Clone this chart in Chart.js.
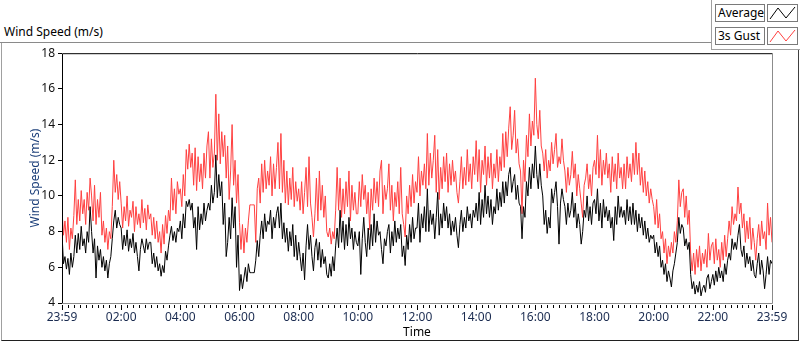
<!DOCTYPE html>
<html>
<head>
<meta charset="utf-8">
<script src="https://cdn.jsdelivr.net/npm/chart.js@4/dist/chart.umd.min.js"></script>
<style>
  html, body { margin: 0; padding: 0; background: #fff; }
  body { width: 800px; height: 342px; position: relative; overflow: hidden; font-family: "Noto Sans", sans-serif; font-size: 12px; color: #000; }
  .caption { position: absolute; left: 4px; top: 23px; }
  .frame { position: absolute; left: 1px; top: 42px; width: 796px; height: 298px; border-left: 1px solid #a0a0a0; border-bottom: 1px solid #202020; border-right: 1px solid #404040; }
  .topline { position: absolute; left: 0; top: 42px; width: 711px; height: 1px; background: #8a8a8a; }
  .legend { position: absolute; left: 711px; top: 0; width: 88px; height: 49px; border-left: 1px solid #a0a0a0; border-bottom: 1px solid #a0a0a0; background: #fff; }
  .lg-name { position: absolute; left: 3px; width: 46px; height: 16px; border: 1px solid #7a7a7a; line-height: 16px; padding-left: 2px; box-sizing: content-box; white-space: nowrap; }
  .lg-swatch { position: absolute; left: 55px; width: 29px; height: 16px; border: 1px solid #7a7a7a; background: #fff; }
  #wrap { position: absolute; left: 2px; top: 43px; width: 796px; height: 297px; }
</style>
</head>
<body>
<div class="frame"></div>
<div class="topline"></div>
<div class="caption">Wind Speed (m/s)</div>
<div class="legend">
  <div class="lg-name" style="top:4px">Average</div>
  <div class="lg-swatch" style="top:4px"><svg width="29" height="16"><polyline points="2,14 10,3 18,13 27,2" fill="none" stroke="#000" stroke-width="1"/></svg></div>
  <div class="lg-name" style="top:27px">3s Gust</div>
  <div class="lg-swatch" style="top:27px"><svg width="29" height="16"><polyline points="2,14 10,3 18,13 27,2" fill="none" stroke="#ff4040" stroke-width="1"/></svg></div>
</div>
<div id="wrap"><canvas id="windChart"></canvas></div>
<script>
// one reading every 3 minutes, 00:00 .. 24:00 (20 per row = 1 hour)
const stepMinutes = 3;

const gust = [
  9.2, 7.8, 8.6, 7.4, 8.8, 7.0, 8.2, 7.6, 8.9, 10.9, 8.4, 9.8, 8.6, 10.3, 9.0, 9.8, 8.4, 10.2, 9.2, 11.0,
  10.0, 8.6, 10.6, 8.4, 9.8, 8.8, 10.2, 7.8, 8.6, 7.4, 8.2, 7.0, 8.0, 7.6, 9.4, 12.0, 10.2, 11.2, 9.8, 10.8,
  9.6, 8.2, 9.4, 8.6, 10.0, 8.3, 9.2, 8.8, 9.7, 8.0, 9.4, 8.4, 9.0, 8.2, 9.8, 8.5, 9.3, 8.1, 9.5, 8.7,
  9.0, 7.8, 8.8, 7.6, 8.6, 7.4, 8.0, 6.8, 8.4, 7.3, 8.9, 7.9, 9.2, 8.6, 11.0, 9.2, 10.4, 9.0, 10.8, 10.1,
  10.4, 9.4, 11.2, 10.0, 12.6, 11.5, 12.9, 11.6, 12.4, 10.6, 12.7, 10.3, 12.2, 10.8, 11.8, 10.4, 12.4, 11.0, 12.8, 13.6,
  11.0, 13.2, 11.6, 12.4, 15.7, 12.0, 14.6, 11.8, 13.6, 12.2, 13.4, 11.0, 12.8, 9.8, 11.4, 14.0, 10.6, 12.0, 9.6, 11.2,
  8.5, 7.0, 8.4, 6.8, 8.2, 7.4, 8.6, 9.5, 9.5, 9.5, 9.5, 7.4, 10.4, 11.0, 9.6, 11.8, 10.2, 12.0, 10.4, 11.4,
  10.6, 12.2, 10.0, 11.8, 10.4, 11.6, 13.0, 10.4, 13.5, 10.2, 12.0, 9.6, 11.4, 9.5, 11.0, 9.8, 11.6, 9.4, 10.8, 9.7,
  10.4, 9.2, 10.8, 9.0, 10.2, 11.6, 9.4, 12.2, 9.6, 8.8, 7.7, 9.0, 11.0, 8.6, 11.4, 9.2, 10.6, 8.8, 10.0, 8.0,
  7.7, 8.2, 7.3, 8.0, 7.6, 9.2, 11.6, 9.2, 11.0, 8.8, 10.4, 9.0, 10.8, 9.4, 11.4, 8.6, 10.6, 9.2, 10.2, 9.0,
  9.0, 10.8, 9.4, 11.2, 9.8, 10.6, 9.0, 10.2, 8.1, 10.4, 9.2, 11.0, 9.6, 10.8, 9.4, 11.4, 12.0, 9.0, 10.6, 9.8,
  10.4, 11.8, 9.2, 10.6, 8.6, 10.2, 9.4, 10.8, 9.0, 11.6, 9.0, 8.4, 7.7, 10.0, 9.0, 10.6, 9.4, 11.2, 9.6, 10.8,
  10.2, 12.2, 10.0, 11.4, 10.6, 11.8, 10.4, 13.5, 10.6, 12.4, 11.0, 12.0, 13.4, 10.2, 12.6, 9.8, 11.6, 10.4, 12.2, 10.8,
  12.4, 10.2, 11.8, 10.6, 12.0, 10.8, 11.4, 10.2, 9.6, 10.8, 12.2, 10.4, 11.6, 10.6, 12.6, 10.8, 11.8, 10.4, 12.2, 11.2,
  13.1, 10.8, 12.6, 10.2, 12.0, 11.2, 12.8, 10.6, 12.2, 11.0, 12.4, 10.4, 11.8, 11.0, 12.6, 10.8, 12.2, 11.4, 13.5, 11.6,
  13.6, 12.2, 13.8, 15.0, 12.6, 13.4, 14.8, 12.4, 13.2, 11.8, 11.4, 9.0, 12.0, 10.8, 13.4, 12.2, 14.6, 12.8, 14.2, 13.4,
  16.6, 14.0, 13.2, 14.8, 12.8, 12.4, 11.4, 12.6, 11.0, 12.0, 11.4, 13.0, 11.8, 12.6, 13.5, 11.6, 12.2, 11.8, 13.2, 12.0,
  11.4, 10.2, 11.6, 10.6, 11.2, 12.5, 11.0, 11.8, 10.0, 11.2, 10.4, 9.6, 8.8, 10.6, 11.0, 11.8, 10.4, 11.2, 10.0, 11.6,
  12.0, 11.2, 13.4, 11.0, 12.6, 10.6, 12.0, 11.2, 12.4, 11.0, 11.8, 10.2, 12.2, 10.8, 11.8, 10.4, 12.4, 11.0, 11.6, 10.4,
  11.8, 10.4, 12.2, 11.0, 11.8, 10.8, 12.4, 11.2, 13.0, 11.2, 12.4, 10.6, 11.6, 10.2, 11.4, 10.0, 10.8, 9.6, 10.4, 9.8,
  9.4, 8.4, 9.8, 8.2, 9.0, 7.6, 8.0, 6.8, 7.6, 6.2, 7.2, 6.6, 7.4, 6.8, 8.0, 7.4, 8.6, 10.9, 9.4, 10.2,
  10.4, 8.8, 10.0, 8.4, 9.2, 6.8, 5.8, 6.8, 5.6, 7.0, 6.0, 7.2, 5.8, 6.8, 6.2, 7.0, 6.0, 7.9, 6.4, 7.2,
  7.4, 6.2, 7.6, 6.4, 7.0, 6.0, 7.4, 6.4, 7.8, 6.6, 7.6, 8.6, 7.8, 9.4, 8.4, 9.0, 8.6, 10.5, 9.0, 9.6,
  8.2, 9.0, 7.4, 8.6, 7.6, 8.8, 7.0, 8.2, 7.4, 6.4, 7.6, 8.4, 7.2, 8.6, 7.6, 8.0, 7.0, 9.6, 7.8, 8.8,
  7.4
];

const average = [
  7.9, 6.2, 6.6, 5.9, 6.5, 5.6, 6.8, 6.0, 6.6, 7.8, 6.8, 7.9, 7.0, 8.3, 7.2, 7.6, 6.8, 8.0, 7.4, 9.4,
  8.0, 6.8, 7.6, 5.4, 7.2, 6.4, 7.0, 6.0, 6.6, 5.8, 6.4, 5.4, 6.2, 6.6, 7.6, 8.6, 9.2, 8.2, 8.8, 8.4,
  8.2, 7.0, 7.8, 7.2, 8.1, 6.9, 7.6, 7.1, 7.9, 6.8, 7.4, 6.6, 5.8, 7.0, 7.6, 7.2, 6.8, 7.6, 7.0, 7.4,
  7.4, 6.2, 6.8, 6.0, 6.6, 5.8, 6.2, 5.5, 6.1, 5.7, 6.9, 6.4, 7.2, 7.8, 8.3, 7.5, 8.0, 7.4, 8.2, 8.0,
  8.6, 7.6, 9.0, 8.2, 9.7, 9.4, 9.8, 9.2, 9.6, 8.2, 8.8, 7.0, 9.4, 8.1, 9.0, 8.4, 9.6, 8.6, 9.2, 9.6,
  9.2, 10.6, 9.6, 10.2, 12.3, 9.9, 11.2, 10.0, 10.8, 8.4, 9.6, 6.6, 7.4, 8.8, 7.6, 9.9, 8.2, 9.4, 6.0, 7.8,
  4.7, 5.6, 4.8, 5.4, 6.0, 5.2, 6.2, 5.7, 5.7, 5.7, 5.7, 6.4, 7.5, 6.6, 7.8, 8.6, 7.6, 9.0, 8.0, 8.6,
  8.4, 9.2, 7.6, 8.8, 8.2, 9.0, 9.4, 8.2, 9.6, 7.6, 8.5, 7.4, 8.2, 6.9, 8.0, 7.2, 8.4, 6.6, 7.8, 6.4,
  7.4, 6.6, 5.8, 6.8, 5.3, 7.2, 8.4, 7.0, 7.8, 6.6, 5.8, 7.1, 7.6, 6.4, 7.4, 6.0, 7.0, 6.2, 6.6, 5.6,
  5.4, 6.2, 5.5, 6.6, 5.8, 7.2, 8.2, 7.1, 9.2, 7.4, 8.6, 7.0, 8.4, 7.2, 8.8, 7.6, 8.2, 7.0, 8.0, 7.4,
  7.2, 8.0, 5.6, 7.6, 8.8, 7.4, 6.6, 8.2, 7.0, 8.4, 7.2, 9.0, 7.4, 8.6, 7.8, 8.0, 7.0, 6.2, 7.6, 7.2,
  8.0, 8.4, 6.8, 8.0, 7.2, 8.6, 7.4, 8.2, 7.6, 8.4, 6.6, 7.2, 6.1, 7.8, 7.0, 8.4, 7.4, 8.8, 7.6, 8.2,
  8.2, 9.6, 7.4, 9.0, 8.2, 9.4, 8.0, 10.4, 8.0, 9.2, 8.4, 9.0, 7.6, 8.8, 10.2, 7.8, 9.0, 8.2, 9.6, 8.6,
  9.4, 8.2, 9.0, 7.8, 8.6, 8.0, 8.8, 7.8, 7.1, 8.4, 9.2, 8.0, 8.8, 8.2, 9.4, 8.6, 9.0, 8.2, 9.2, 8.8,
  9.6, 8.6, 10.2, 8.4, 9.8, 8.8, 10.6, 9.0, 10.0, 8.8, 9.8, 8.4, 9.4, 9.0, 10.4, 9.2, 10.2, 9.4, 10.8, 9.6,
  10.8, 10.0, 11.2, 11.6, 10.2, 10.8, 11.2, 9.8, 10.6, 9.6, 9.4, 7.6, 9.4, 8.8, 10.8, 10.0, 11.6, 10.4, 11.8, 11.0,
  12.8, 11.2, 10.4, 11.8, 10.6, 10.0, 8.4, 9.2, 7.9, 8.8, 8.2, 10.4, 9.6, 10.2, 10.8, 9.4, 7.3, 9.6, 10.4, 9.8,
  9.4, 8.4, 9.6, 8.8, 9.2, 10.2, 8.8, 9.6, 8.2, 9.0, 8.4, 7.3, 8.0, 9.2, 8.8, 10.0, 8.6, 9.4, 8.4, 9.6,
  9.8, 9.0, 10.4, 8.6, 9.6, 8.2, 9.8, 8.8, 9.4, 8.6, 9.2, 8.2, 8.8, 7.5, 9.4, 8.4, 10.0, 8.8, 9.4, 8.8,
  9.2, 8.4, 9.8, 8.6, 9.4, 8.4, 9.6, 8.4, 9.2, 8.0, 9.0, 8.2, 8.8, 7.8, 8.6, 7.6, 8.2, 7.4, 7.8, 7.6,
  7.8, 6.8, 7.4, 6.6, 7.2, 6.0, 6.4, 5.6, 6.2, 5.2, 5.8, 5.4, 4.9, 5.8, 6.2, 6.8, 7.4, 8.8, 7.9, 8.4,
  8.2, 7.2, 7.6, 7.0, 7.4, 5.6, 4.8, 5.2, 4.5, 5.0, 4.6, 5.2, 4.4, 4.8, 5.0, 4.6, 5.4, 5.6, 4.8, 5.2,
  5.6, 5.0, 5.8, 5.2, 6.0, 5.4, 5.8, 5.2, 6.2, 5.6, 6.4, 6.8, 6.4, 7.6, 7.0, 7.4, 7.0, 7.8, 8.4, 7.0,
  6.6, 7.2, 6.0, 6.8, 6.2, 6.6, 5.8, 6.4, 5.6, 5.4, 6.2, 6.8, 5.6, 6.4, 5.8, 4.8, 5.6, 6.6, 5.6, 6.4,
  6.2
];

const timeLabels = ['23:59', '02:00', '04:00', '06:00', '08:00', '10:00', '12:00',
                    '14:00', '16:00', '18:00', '20:00', '22:00', '23:59'];
const yTicks = [4, 6, 8, 10, 12, 14, 16, 18];

const FONT = { family: '"Noto Sans", sans-serif', size: 12 };

// plot frame + x tick marks (major every 2h, minor every 12 min)
const framePlugin = {
  id: 'frame',
  afterDraw(chart) {
    const { ctx, chartArea: a, scales } = chart;
    ctx.save();
    ctx.lineWidth = 1;
    ctx.strokeStyle = '#000';
    ctx.beginPath();
    ctx.moveTo(a.left + 0.5, a.bottom);
    ctx.lineTo(a.left + 0.5, a.top + 0.5);
    ctx.lineTo(a.right + 0.5, a.top + 0.5);
    ctx.stroke();
    ctx.strokeStyle = '#8c8c8c';
    ctx.beginPath();
    ctx.moveTo(a.right + 0.5, a.top + 0.5);
    ctx.lineTo(a.right + 0.5, a.bottom + 0.5);
    ctx.lineTo(a.left, a.bottom + 0.5);
    ctx.stroke();
    const x = scales.x;
    ctx.strokeStyle = '#000';
    ctx.beginPath();
    for (let m = 0; m <= 1440; m += 12) {
      const px = Math.round(x.getPixelForValue(m)) + 0.5;
      const len = m % 120 === 0 ? 6 : 4;
      ctx.moveTo(px, a.bottom + 2);
      ctx.lineTo(px, a.bottom + 1 + len);
    }
    ctx.stroke();
    ctx.restore();
  }
};

const toPoints = arr => arr.map((v, i) => ({ x: i * stepMinutes, y: v }));

new Chart(document.getElementById('windChart'), {
  type: 'line',
  data: {
    datasets: [
      { label: 'Average', data: toPoints(average), borderColor: '#000000', borderWidth: 1, pointRadius: 0, tension: 0, order: 0 },
      { label: '3s Gust', data: toPoints(gust), borderColor: '#ff4040', borderWidth: 1, pointRadius: 0, tension: 0, order: 1 }
    ]
  },
  options: {
    responsive: true,
    maintainAspectRatio: false,
    animation: false,
    layout: { padding: { top: 8, right: 26, left: 26, bottom: 0 } },
    plugins: { legend: { display: false }, tooltip: { enabled: false } },
    scales: {
      x: {
        type: 'linear',
        min: 0,
        max: 1440,
        afterBuildTicks: s => { s.ticks = timeLabels.map((_, i) => ({ value: i * 120 })); },
        afterFit: s => { s.height = 37; },
        grid: { display: false, drawTicks: false },
        border: { display: false },
        ticks: {
          autoSkip: false,
          maxRotation: 0,
          padding: 7,
          color: '#1a2b50',
          font: FONT,
          callback: v => timeLabels[Math.round(v / 120)]
        },
        title: { display: true, text: 'Time', color: '#000', font: FONT, padding: 0 }
      },
      y: {
        min: 4,
        max: 18,
        afterBuildTicks: s => { s.ticks = yTicks.map(v => ({ value: v })); },
        afterFit: s => { s.width = 34; },
        grid: { drawOnChartArea: false, drawTicks: true, tickLength: 4, tickColor: '#000' },
        border: { display: false },
        ticks: { padding: 3, color: '#111', font: FONT },
        title: { display: true, text: 'Wind Speed (m/s)', color: '#1c3f7a', font: FONT, padding: 0 }
      }
    }
  },
  plugins: [framePlugin]
});
</script>
</body>
</html>
